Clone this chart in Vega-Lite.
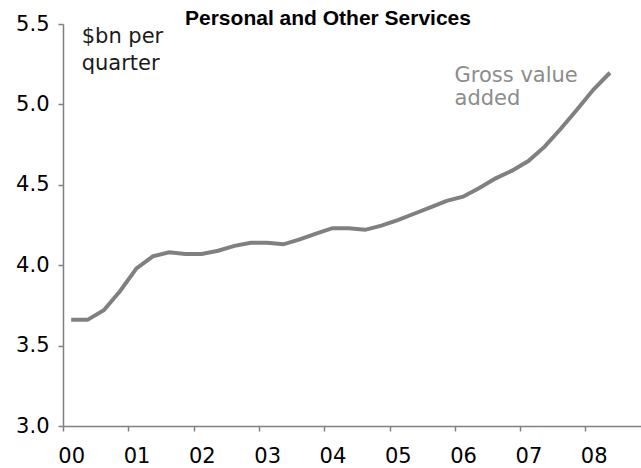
{
  "$schema": "https://vega.github.io/schema/vega-lite/v6.json",
  "width": 578,
  "height": 402,
  "autosize": {"type": "none"},
  "padding": {"left": 63, "top": 24, "right": 0, "bottom": 42},
  "background": "white",
  "config": {
    "view": {"stroke": null},
    "axis": {
      "grid": false,
      "domainColor": "#808080",
      "tickColor": "#808080",
      "domainWidth": 1.5,
      "tickWidth": 1.5,
      "tickSize": 5,
      "labelFont": "DejaVu Sans",
      "labelFontSize": 21,
      "labelColor": "#000000",
      "title": null
    }
  },
  "title": {
    "text": "Personal and Other Services",
    "font": "Liberation Sans",
    "fontWeight": "bold",
    "fontSize": 21,
    "color": "#000000",
    "anchor": "middle",
    "frame": "group",
    "baseline": "alphabetic",
    "offset": 0,
    "dy": 33,
    "dx": -24
  },
  "datasets": {
    "series": [
      {"q": 0, "v": 3.66}, {"q": 1, "v": 3.66}, {"q": 2, "v": 3.72}, {"q": 3, "v": 3.84},
      {"q": 4, "v": 3.98}, {"q": 5, "v": 4.055}, {"q": 6, "v": 4.08}, {"q": 7, "v": 4.07},
      {"q": 8, "v": 4.07}, {"q": 9, "v": 4.09}, {"q": 10, "v": 4.12}, {"q": 11, "v": 4.14},
      {"q": 12, "v": 4.14}, {"q": 13, "v": 4.13}, {"q": 14, "v": 4.16}, {"q": 15, "v": 4.196},
      {"q": 16, "v": 4.23}, {"q": 17, "v": 4.23}, {"q": 18, "v": 4.22}, {"q": 19, "v": 4.246},
      {"q": 20, "v": 4.28}, {"q": 21, "v": 4.32}, {"q": 22, "v": 4.36}, {"q": 23, "v": 4.40},
      {"q": 24, "v": 4.426}, {"q": 25, "v": 4.48}, {"q": 26, "v": 4.54}, {"q": 27, "v": 4.588},
      {"q": 28, "v": 4.648}, {"q": 29, "v": 4.737}, {"q": 30, "v": 4.85}, {"q": 31, "v": 4.97},
      {"q": 32, "v": 5.094}, {"q": 33, "v": 5.197}
    ],
    "units": [
      {"x": 0.645, "y": 5.382, "text": "$bn per"},
      {"x": 0.645, "y": 5.215, "text": "quarter"}
    ],
    "serieslabel": [
      {"x": 23.48, "y": 5.141, "text": "Gross value"},
      {"x": 23.48, "y": 4.996, "text": "added"}
    ]
  },
  "layer": [
    {
      "data": {"name": "series"},
      "mark": {"type": "line", "color": "#808080", "strokeWidth": 4},
      "encoding": {
        "x": {
          "field": "q",
          "type": "quantitative",
          "scale": {"domain": [-0.5, 34.9], "nice": false, "zero": false},
          "axis": {
            "values": [-0.5, 3.5, 7.5, 11.5, 15.5, 19.5, 23.5, 27.5, 31.5],
            "labelExpr": "'0' + floor((datum.value + 0.5) / 4)",
            "labelOffset": 8.2,
            "labelPadding": 14,
            "labelFlush": false,
            "labelBound": false,
            "labelOverlap": false,
            "labelAlign": "center"
          }
        },
        "y": {
          "field": "v",
          "type": "quantitative",
          "scale": {"domain": [3, 5.5], "nice": false, "zero": false},
          "axis": {
            "values": [3, 3.5, 4, 4.5, 5, 5.5],
            "format": ".1f",
            "labelPadding": 9
          }
        }
      }
    },
    {
      "data": {"name": "units"},
      "mark": {"type": "text", "align": "left", "baseline": "alphabetic", "font": "DejaVu Sans", "fontSize": 21, "color": "#1a1a1a"},
      "encoding": {
        "x": {"field": "x", "type": "quantitative"},
        "y": {"field": "y", "type": "quantitative"},
        "text": {"field": "text"}
      }
    },
    {
      "data": {"name": "serieslabel"},
      "mark": {"type": "text", "align": "left", "baseline": "alphabetic", "font": "DejaVu Sans", "fontSize": 21, "color": "#8c8c8c"},
      "encoding": {
        "x": {"field": "x", "type": "quantitative"},
        "y": {"field": "y", "type": "quantitative"},
        "text": {"field": "text"}
      }
    }
  ]
}
